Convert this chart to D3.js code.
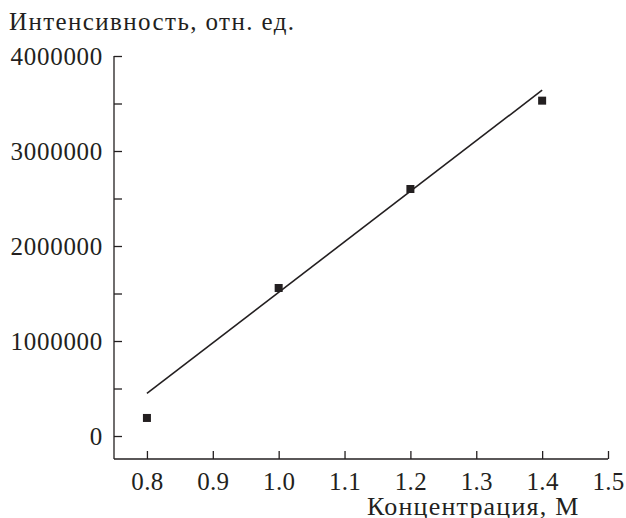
<!DOCTYPE html>
<html><head><meta charset="utf-8">
<script src="https://cdn.jsdelivr.net/npm/d3@7"></script>
<style>
body{margin:0;background:#fff;}
svg text{font-family:"Liberation Serif","Times New Roman",serif;fill:#231f20;}
</style></head>
<body><svg id="c" width="626" height="518"></svg>
<script>
const concentration = [0.8, 1.0, 1.2, 1.4];
const intensity = [190000, 1558000, 2600000, 3530000];
const fitX = [0.8, 1.4];
const fitY = [449000, 3640000];
const xTicks = [0.8, 0.9, 1.0, 1.1, 1.2, 1.3, 1.4, 1.5];
const yTicks = [0, 1000000, 2000000, 3000000, 4000000];
const yMinor = [500000, 1500000, 2500000, 3500000];
const yTitle = "Интенсивность, отн. ед.";
const xTitle = "Концентрация, М";

const ink = "#231f20";
const svg = d3.select("#c");
const x = d3.scaleLinear().domain([0.75, 1.5]).range([114, 608]);
const y = d3.scaleLinear().domain([-242000, 4000000]).range([459, 56]);

const fs = 25;
// x axis
const xa = svg.append("g").attr("transform", `translate(0,${y.range()[0]})`)
  .call(d3.axisBottom(x).tickValues(xTicks).tickFormat(d3.format(".1f")).tickSizeInner(-8).tickSizeOuter(0).tickPadding(13));
xa.attr("font-family", null);
xa.select(".domain").attr("stroke", ink).attr("stroke-width", 1.3).attr("d", `M${x.range()[0]},0H${x.range()[1]}`);
xa.selectAll(".tick line").attr("stroke", ink).attr("stroke-width", 1.3);
xa.selectAll(".tick text").attr("font-size", fs).attr("fill", ink).attr("letter-spacing", 0.3);

// y axis
const ya = svg.append("g").attr("transform", `translate(${x.range()[0]},0)`)
  .call(d3.axisLeft(y).tickValues(yTicks).tickFormat(d3.format("d")).tickSizeInner(-8).tickSizeOuter(0).tickPadding(11));
ya.attr("font-family", null);
ya.select(".domain").attr("stroke", ink).attr("stroke-width", 1.3).attr("d", `M0,${y.range()[0]}V${y.range()[1]}`);
ya.selectAll(".tick line").attr("stroke", ink).attr("stroke-width", 1.3);
ya.selectAll(".tick text").attr("font-size", fs).attr("fill", ink).attr("letter-spacing", 0.7);
const ym = svg.append("g").attr("transform", `translate(${x.range()[0]},0)`)
  .call(d3.axisLeft(y).tickValues(yMinor).tickFormat("").tickSizeInner(-8).tickSizeOuter(0));
ym.select(".domain").remove();
ym.selectAll(".tick line").attr("stroke", ink).attr("stroke-width", 1.3);

// fit line
const line = d3.line().x(d => x(d[0])).y(d => y(d[1]));
svg.append("path").datum(d3.zip(fitX, fitY)).attr("d", line)
  .attr("fill", "none").attr("stroke", ink).attr("stroke-width", 1.6);

// points
const s = 8;
svg.selectAll("rect.pt").data(d3.zip(concentration, intensity)).join("rect")
  .attr("class", "pt").attr("x", d => x(d[0]) - s/2).attr("y", d => y(d[1]) - s/2)
  .attr("width", s).attr("height", s).attr("fill", ink);

// titles
svg.append("text").attr("x", 9).attr("y", 30).attr("font-size", 25).attr("letter-spacing", 1.4).text(yTitle);
svg.append("text").attr("x", 367).attr("y", 515).attr("font-size", 26).attr("letter-spacing", 1.2).text(xTitle);
</script></body></html>
